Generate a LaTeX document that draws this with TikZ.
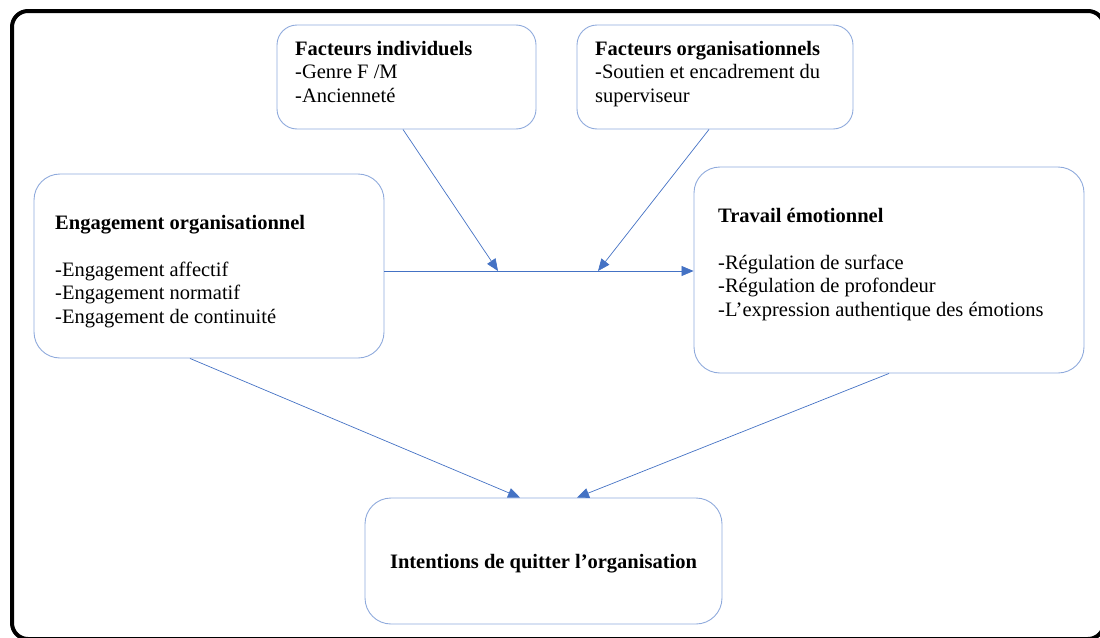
\documentclass[tikz,border=0pt]{standalone}
\usepackage{fontspec}
\setmainfont{Liberation Serif}
\usetikzlibrary{arrows.meta}
\definecolor{boxline}{HTML}{8FAADC}
\definecolor{arrowblue}{HTML}{4472C4}
\tikzset{
  panel/.style={draw=boxline, line width=0.9pt, rounded corners=26pt, inner sep=0pt},
  smallpanel/.style={panel, rounded corners=20pt},
  txt/.style={inner sep=0pt, align=left, anchor=north west, font=\fontsize{20.5}{23.5}\selectfont},
  link/.style={draw=arrowblue, line width=0.7pt, -{Triangle[length=12pt,width=10pt]}},
}
\begin{document}
\begin{tikzpicture}[x=1pt,y=-1pt]
\useasboundingbox (0,0) rectangle (1100,637);
% outer frame
\draw[line width=4pt, rounded corners=16pt] (12,11) rectangle (1104,639);

% boxes
\node[smallpanel, minimum width=259, minimum height=104] (indiv) at (406.5,77) {};
\node[smallpanel, minimum width=276, minimum height=104] (orga) at (715,77) {};
\node[panel, minimum width=350, minimum height=184] (eng) at (209,266) {};
\node[panel, minimum width=390, minimum height=206] (trav) at (889,270) {};
\node[panel, minimum width=357, minimum height=126] (quit) at (543.5,561) {};

% texts
\node[txt] (indivt) at (295,41) {\textbf{Facteurs individuels}\\-Genre F /M\\-Ancienneté};
\node[txt] (orgat) at (595,41) {\textbf{Facteurs organisationnels}\\-Soutien et encadrement du\\superviseur};
\node[txt] (engt) at (55,215) {\textbf{Engagement organisationnel}\\[23.5pt]-Engagement affectif\\-Engagement normatif\\-Engagement de continuité};
\node[txt] (travt) at (718,208) {\textbf{Travail émotionnel}\\[23.5pt]-Régulation de surface\\-Régulation de profondeur\\-L’expression authentique des émotions};
\node[inner sep=0pt, font=\fontsize{20.5}{23.5}\selectfont\bfseries] (quitt) at (543.5,564) {Intentions de quitter l’organisation};

% connectors
\coordinate (m1) at (498,271);
\coordinate (m2) at (598,271);
\draw[link] (eng.east |- m1) -- (trav.west |- m1);
\draw[link] (indiv.south -| 403,0) -- (m1);
\draw[link] (orga.south -| 709,0) -- (m2);
\draw[link] (eng.south -| 190,0) -- (quit.north -| 520,0);
\draw[link] (trav.south -| 889,0) -- (quit.north -| 577,0);
\end{tikzpicture}
\end{document}
